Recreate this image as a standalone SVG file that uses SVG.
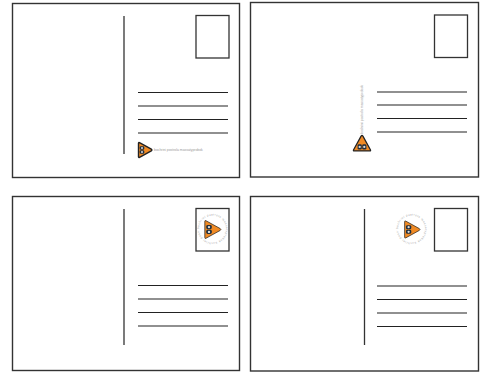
<svg xmlns="http://www.w3.org/2000/svg" width="486" height="374" viewBox="0 0 486 374">
<style>
.card{fill:#fff;stroke:#333;stroke-width:1.4}
.stamp{fill:#fff;stroke:#333;stroke-width:1.3}
.ln{stroke:#222;stroke-width:1.1;fill:none}
.div{stroke:#333;stroke-width:1.3;fill:none}
.tag{font-family:"Liberation Sans",sans-serif;font-size:3.4px;fill:#999}
.ring{font-family:"Liberation Sans",sans-serif;font-size:2.8px;fill:#999;letter-spacing:.55px}
.tri{fill:#f08a24;stroke:#222;stroke-linejoin:round}
.ey{fill:#1f2f3f}
</style>
<defs>
<g id="logo">
<path class="tri" d="M-6-6.800Q-6-7.800-5-7.300L6.800-.8Q8 0 6.800 .8L-5 7.300Q-6 7.800-6 6.800Z"/>
<rect class="ey" x="-4.800" y="-3.800" width="4.600" height="3.600" rx="1.200"/>
<rect class="ey" x="-4.800" y=".2" width="4.600" height="3.600" rx="1.200"/>
<circle cx="-2.500" cy="-2" r="1" fill="#ddd"/>
<circle cx="-2.500" cy="2" r="1" fill="#ddd"/>
</g>
<path id="ringA" d="M-13.500 0A13.500 13.500 0 1 1 13.500 0A13.500 13.500 0 1 1-13.500 0"/>
</defs>
<g id="card-1">
<rect class="card" x="12.500" y="3.500" width="227" height="174"/>
<rect class="stamp" x="196" y="15.500" width="33" height="42.500"/>
<path class="div" d="M124 16V154"/>
<path class="ln" d="M138 92.500H228M138 106H228M138 119.500H228M138 133H228"/>
<use href="#logo" stroke-width="1.400" transform="translate(144.500 150)"/>
<text class="tag" x="154" y="151">bochrini postrola massatyprobok</text>
</g>
<g id="card-2">
<rect class="card" x="250.500" y="2.500" width="228" height="174.500"/>
<rect class="stamp" x="434.500" y="15" width="33" height="42.500"/>
<path class="ln" d="M377 92H467M377 105H467M377 118.500H467M377 132H467"/>
<use href="#logo" stroke-width="1.100" transform="translate(362 144) rotate(-90) scale(1.150)"/>
<text class="tag" transform="translate(363 134) rotate(-90)">bochrini postrola massatyprobok</text>
</g>
<g id="card-3">
<rect class="card" x="12.500" y="196.500" width="227" height="174"/>
<rect class="stamp" x="196" y="208.500" width="33" height="42.500"/>
<path class="div" d="M124 209V345"/>
<path class="ln" d="M138 285.500H228M138 299H228M138 312.500H228M138 326H228"/>
<use href="#logo" stroke-width=".6" transform="translate(212 229.500) scale(1.200)"/>
<text class="ring" transform="translate(212.500 229)"><textPath href="#ringA">bochrini postrola massatyprobok bochrini postrola massa</textPath></text>
</g>
<g id="card-4">
<rect class="card" x="250.500" y="196.500" width="228" height="174.500"/>
<rect class="stamp" x="434.500" y="208.500" width="33" height="42.500"/>
<path class="div" d="M364.500 209V345"/>
<path class="ln" d="M377 286H467M377 299.500H467M377 313H467M377 326.500H467"/>
<use href="#logo" stroke-width=".6" transform="translate(411.500 229.500) scale(1.150)"/>
<text class="ring" transform="translate(411.500 229)"><textPath href="#ringA">bochrini postrola massatyprobok bochrini postrola massa</textPath></text>
</g>
</svg>
